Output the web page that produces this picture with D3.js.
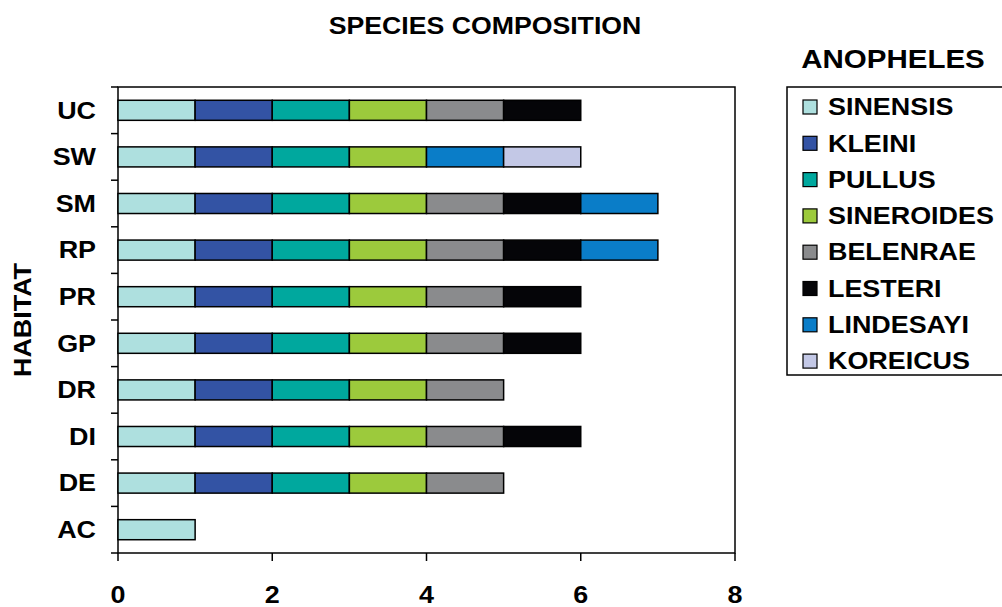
<!DOCTYPE html>
<html><head><meta charset="utf-8">
<script src="https://cdn.jsdelivr.net/npm/d3@7"></script>
<style>body{margin:0;background:#fff}text{font-family:"Liberation Sans",Arial,sans-serif;font-weight:bold}</style>
</head><body><svg id="c" width="1002" height="607"></svg>
<script>
var habitats = ['AC', 'DE', 'DI', 'DR', 'GP', 'PR', 'RP', 'SM', 'SW', 'UC'];
var species = ['SINENSIS', 'KLEINI', 'PULLUS', 'SINEROIDES', 'BELENRAE', 'LESTERI', 'LINDESAYI', 'KOREICUS'];
var colors = ['#aee0df', '#3353a4', '#00a89e', '#9cca3c', '#8a8b8d', '#050508', '#0a7dc8', '#c3c8e6'];
// presence (1) per habitat, same order as habitats
var sinensis   = [1, 1, 1, 1, 1, 1, 1, 1, 1, 1];
var kleini     = [0, 1, 1, 1, 1, 1, 1, 1, 1, 1];
var pullus     = [0, 1, 1, 1, 1, 1, 1, 1, 1, 1];
var sineroides = [0, 1, 1, 1, 1, 1, 1, 1, 1, 1];
var belenrae   = [0, 1, 1, 1, 1, 1, 1, 1, 0, 1];
var lesteri    = [0, 0, 1, 0, 1, 1, 1, 1, 0, 1];
var lindesayi  = [0, 0, 0, 0, 0, 0, 1, 1, 1, 0];
var koreicus   = [0, 0, 0, 0, 0, 0, 0, 0, 1, 0];
var xTicks = [0, 2, 4, 6, 8];

(function () {
var series = [sinensis, kleini, pullus, sineroides, belenrae, lesteri, lindesayi, koreicus];
var svg = d3.select('#c');
var pl = 118, pr = 735, pt = 87, pb = 553;
var sx = 1.17; // reference font is wider than Liberation

var x = d3.scaleLinear().domain([0, 8]).range([pl, pr]);
var y = d3.scaleBand().domain(habitats.slice().reverse()).range([pt, pb]).paddingInner(0.57).paddingOuter(0.285);

var rows = habitats.map(function (h, i) {
  var row = {habitat: h};
  species.forEach(function (s, j) { row[s] = series[j][i]; });
  return row;
});
var stack = d3.stack().keys(species)(rows);

svg.append('rect').attr('x', pl).attr('y', pt).attr('width', pr - pl).attr('height', pb - pt)
  .attr('fill', 'none').attr('stroke', '#000').attr('stroke-width', 1.5);

svg.selectAll('g.layer').data(stack).enter().append('g')
  .attr('fill', function (d, i) { return colors[i]; })
  .selectAll('rect').data(function (d) { return d.filter(function (p) { return p[1] > p[0]; }); })
  .enter().append('rect')
  .attr('x', function (d) { return x(d[0]); })
  .attr('width', function (d) { return x(d[1]) - x(d[0]); })
  .attr('y', function (d) { return y(d.data.habitat); })
  .attr('height', y.bandwidth())
  .attr('stroke', '#000').attr('stroke-width', 1.5);

var step = (pb - pt) / habitats.length;
svg.selectAll('line.yt').data(d3.range(habitats.length + 1)).enter().append('line')
  .attr('x1', pl - 7).attr('x2', pl).attr('y1', function (d) { return pt + d * step; })
  .attr('y2', function (d) { return pt + d * step; }).attr('stroke', '#000').attr('stroke-width', 1.5);
svg.selectAll('text.yl').data(habitats).enter().append('text')
  .attr('transform', function (d) { return 'translate(96,' + (y(d) + y.bandwidth() / 2) + ') scale(' + sx + ',1)'; })
  .attr('dy', '0.36em').attr('text-anchor', 'end').attr('font-size', 23).text(function (d) { return d; });

svg.selectAll('line.xt').data(xTicks).enter().append('line')
  .attr('x1', x).attr('x2', x).attr('y1', pb).attr('y2', pb + 8)
  .attr('stroke', '#000').attr('stroke-width', 1.5);
svg.selectAll('text.xl').data(xTicks).enter().append('text')
  .attr('transform', function (d) { return 'translate(' + x(d) + ',603) scale(' + sx + ',1)'; })
  .attr('text-anchor', 'middle').attr('font-size', 23).text(function (d) { return d; });

svg.append('text').attr('transform', 'translate(485,34) scale(1.16,1)').attr('text-anchor', 'middle').attr('font-size', 23).text('SPECIES COMPOSITION');
svg.append('text').attr('transform', 'translate(31,320) rotate(-90) scale(1.17,1)').attr('text-anchor', 'middle').attr('font-size', 23).text('HABITAT');
svg.append('text').attr('transform', 'translate(893,68) scale(1.18,1)').attr('text-anchor', 'middle').attr('font-size', 25).text('ANOPHELES');

svg.append('rect').attr('x', 787).attr('y', 87).attr('width', 230).attr('height', 288)
  .attr('fill', 'none').attr('stroke', '#000').attr('stroke-width', 1.5);
var lg = svg.selectAll('g.lg').data(species).enter().append('g')
  .attr('transform', function (d, i) { return 'translate(803,' + (107 + i * 36.3) + ')'; });
lg.append('rect').attr('x', 0).attr('y', -7).attr('width', 14).attr('height', 14)
  .attr('fill', function (d, i) { return colors[i]; }).attr('stroke', '#000').attr('stroke-width', 1.2);
lg.append('text').attr('transform', 'translate(25,0) scale(' + sx + ',1)').attr('dy', '0.36em').attr('font-size', 23).text(function (d) { return d; });
})();
</script></body></html>
